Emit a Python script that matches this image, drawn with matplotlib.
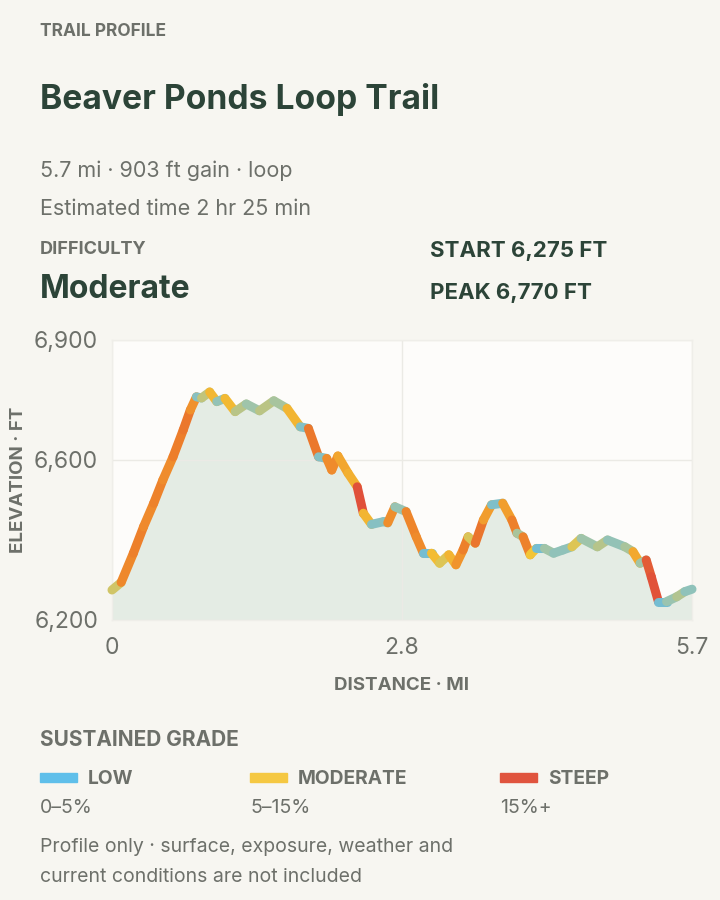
import numpy as np
import matplotlib
matplotlib.use("Agg")
import matplotlib.pyplot as plt
from matplotlib.collections import LineCollection
from matplotlib.colors import LinearSegmentedColormap, Normalize

# trail profile
dist_mi = [0.00, 0.09, 0.21, 0.31, 0.41, 0.50, 0.60, 0.70, 0.77, 0.83,
           0.88, 0.96, 1.03, 1.11, 1.21, 1.32, 1.45, 1.59, 1.72, 1.85,
           1.93, 2.03, 2.11, 2.16, 2.22, 2.32, 2.41, 2.47, 2.55, 2.67,
           2.71, 2.78, 2.89, 2.99, 3.06, 3.14, 3.22, 3.31, 3.38, 3.45,
           3.50, 3.57, 3.65, 3.73, 3.84, 3.93, 3.98, 4.04, 4.11, 4.17,
           4.25, 4.34, 4.43, 4.52, 4.61, 4.77, 4.87, 5.04, 5.12, 5.19,
           5.25, 5.30, 5.37, 5.45, 5.55, 5.63, 5.70]
elev_ft = [6275, 6294, 6367, 6433, 6492, 6550, 6608, 6675, 6725, 6758,
           6755, 6770, 6746, 6754, 6721, 6740, 6723, 6748, 6729, 6683,
           6679, 6608, 6604, 6575, 6610, 6567, 6533, 6467, 6439, 6446,
           6443, 6483, 6471, 6408, 6367, 6367, 6342, 6363, 6338, 6375,
           6408, 6392, 6450, 6488, 6492, 6450, 6417, 6408, 6363, 6379,
           6379, 6367, 6375, 6383, 6404, 6383, 6400, 6383, 6371, 6342,
           6350, 6308, 6246, 6246, 6258, 6271, 6277]

x_ticks = [0, 2.85, 5.7]
x_tick_labels = ["0", "2.8", "5.7"]
y_ticks = [6200, 6600, 6900]
y_tick_labels = ["6,200", "6,600", "6,900"]

grade_names = ["LOW", "MODERATE", "STEEP"]
grade_ranges = ["0–5%", "5–15%", "15%+"]
grade_colors = ["#5fbfea", "#f5c842", "#e0543e"]

BG = "#f7f6f1"
DARK = "#2c4438"
GREY = "#6d706a"

plt.rcParams["font.family"] = ["Inter", "DejaVu Sans"]

fig = plt.figure(figsize=(7.2, 9), dpi=100)
fig.patch.set_facecolor(BG)

def px(x, y):
    return x / 720, 1 - y / 900

def txt(x, y, s, size, color, weight="normal", **kw):
    fig.text(*px(x, y + 2), s, fontsize=size, color=color, fontweight=weight,
             va="center", **kw)

txt(40, 30, "TRAIL PROFILE", 12.5, GREY, "bold")
txt(40, 97, "Beaver Ponds Loop Trail", 24.2, DARK, "bold")
txt(40, 169, "5.7 mi · 903 ft gain · loop", 15.5, GREY)
txt(40, 207, "Estimated time 2 hr 25 min", 15.5, GREY)
txt(40, 247, "DIFFICULTY", 13, GREY, "bold")
txt(40, 287, "Moderate", 23, DARK, "bold")
txt(430, 249, "START 6,275 FT", 16, DARK, "bold")
txt(430, 291, "PEAK 6,770 FT", 16, DARK, "bold")

# chart
ax = fig.add_axes([112 / 720, 1 - 620 / 900, 580 / 720, 280 / 900])
ax.set_facecolor("#fdfcfa")
d = np.array(dist_mi)
e = np.array(elev_ft)
ax.fill_between(d, e, 6200, color="#e4ece4", lw=0, zorder=1)

grade = np.abs(np.diff(e)) / (np.diff(d) * 5280) * 100
cmap = LinearSegmentedColormap.from_list(
    "grade",
    [(0.0, "#74bdd2"), (0.14, "#9cc4ae"), (0.3, "#f3c536"),
     (0.55, "#f1992c"), (0.78, "#ec7a2b"), (1.0, "#e0503a")])
pts = np.column_stack([d, e]).reshape(-1, 1, 2)
segs = np.concatenate([pts[:-1], pts[1:]], axis=1)
lc = LineCollection(segs, cmap=cmap, norm=Normalize(0, 17), linewidths=6.5,
                    capstyle="round", joinstyle="round", zorder=3)
lc.set_array(grade)
lc.set_clip_on(False)
ax.add_collection(lc)

ax.set_xlim(0, 5.7)
ax.set_ylim(6200, 6900)
ax.set_xticks(x_ticks, x_tick_labels)
ax.set_yticks(y_ticks, y_tick_labels)
ax.tick_params(length=0, labelsize=16.5, labelcolor=GREY)
ax.tick_params(axis="y", pad=10)
ax.tick_params(axis="x", pad=12)
ax.grid(True, color="#ebeae5", lw=1, zorder=0)
for s in ax.spines.values():
    s.set_color("#efeee9")
    s.set_linewidth(1)

txt(402, 684, "DISTANCE · MI", 13.5, GREY, "bold", ha="center")
fig.text(*px(19, 480), "ELEVATION · FT", fontsize=13.5, color=GREY,
         fontweight="bold", rotation=90, ha="center", va="center")

# legend
txt(40, 738, "SUSTAINED GRADE", 15, GREY, "bold")
for x0, name, rng, col in zip([40, 250, 500], grade_names, grade_ranges, grade_colors):
    fig.patches.append(plt.Rectangle(px(x0, 782), 37 / 720, 9 / 900,
                                     transform=fig.transFigure, color=col))
    txt(x0 + 48, 777, name, 13.8, GREY, "bold")
    txt(x0, 806, rng, 14, GREY)

txt(40, 845, "Profile only · surface, exposure, weather and", 14, GREY)
txt(40, 875, "current conditions are not included", 14, GREY)

fig.savefig("out.png", dpi=100, facecolor=BG)
